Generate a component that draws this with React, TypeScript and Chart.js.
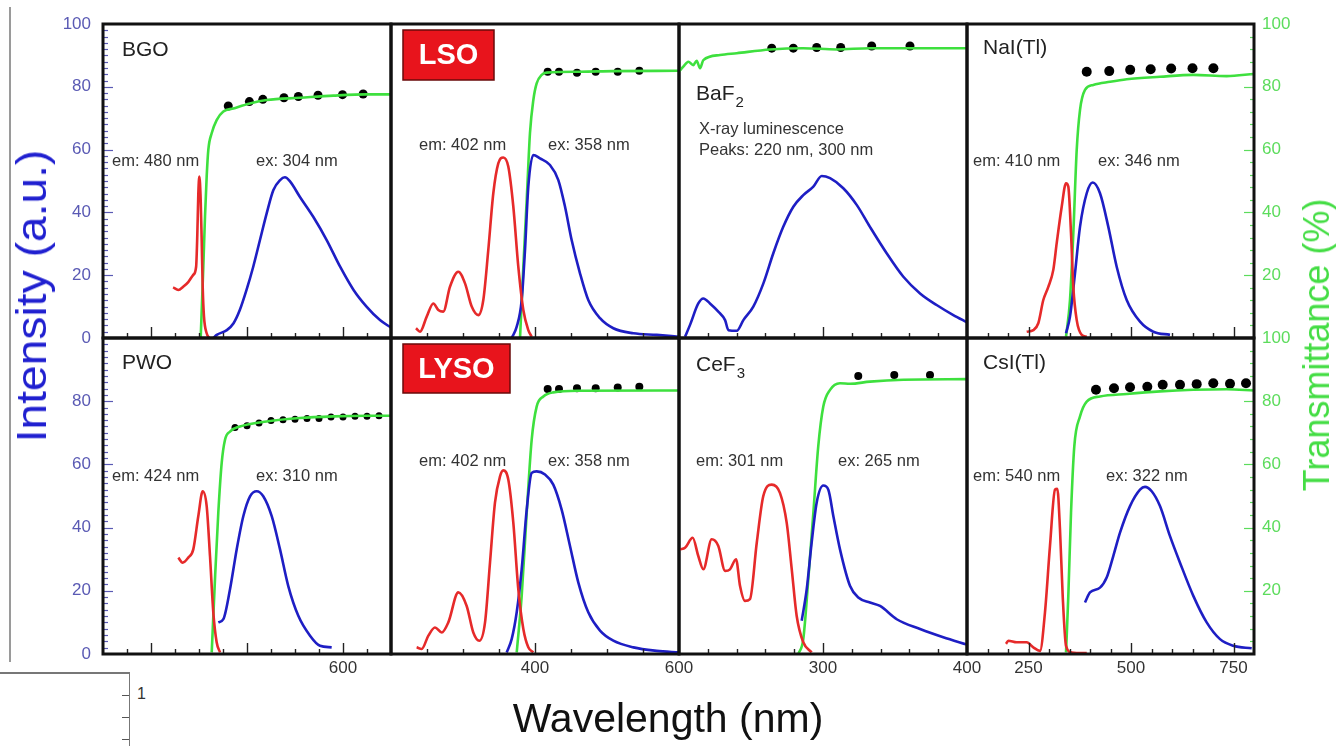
import React, { useEffect, useRef } from "react";
import { Chart, registerables } from "chart.js";

Chart.register(...registerables);

type Pt = [number, number];

// ---------------- data: [wavelength nm, value] ----------------
// BGO
const bgoExcitation: Pt[] = [[246, 16.1], [257, 15.3], [267, 16.3], [278, 17.9], [288, 20.1], [294, 22.7], [296.5, 33], [298.6, 46], [300.7, 51.4], [303.5, 44], [305.6, 31], [307.7, 16.3], [310.4, 6.8], [316, 1.5], [321.5, 0]];
const bgoEmission: Pt[] = [[330, 0], [337, 1], [358, 2.5], [372, 4.7], [385, 8.9], [399, 15.3], [413, 22.7], [427, 31.2], [441, 39.7], [455, 47.1], [469, 50.3], [479, 51.2], [490, 49.8], [510, 45], [538, 38.6], [566, 31.2], [594, 22.7], [622, 15.3], [649, 10], [677, 5.7], [700, 3.3]];
const bgoTransmit: Pt[] = [[303.5, 0], [309, 22.7], [312.5, 38.6], [316, 51.4], [319.4, 59.9], [326.4, 65.2], [336.8, 69.4], [350.7, 72.1], [371.5, 73.1], [406, 74.7], [441, 75.8], [510, 76.5], [580, 77.2], [649, 77.6], [700, 77.6]];
const bgoTheory: Pt[] = [[361, 73.9], [405, 75.3], [433, 76], [477, 76.5], [507, 76.9], [548, 77.3], [599, 77.5], [642, 77.7]];
// LSO
const lsoExcitation: Pt[] = [[234.7, 3.1], [240.3, 2], [249.6, 6.8], [258.8, 11], [265.7, 8.9], [272.6, 8.4], [281.9, 16.3], [293.5, 21.1], [302.8, 17.4], [312.1, 10], [321.3, 7.3], [328.2, 12.1], [335.1, 28], [342.1, 46.1], [349, 55.6], [356, 57.5], [362.9, 54.6], [369.9, 41.8], [376.8, 22.7], [383.8, 8.9], [390.7, 2.5], [395.4, 0.4]];
const lsoEmission: Pt[] = [[367.6, 0], [374.6, 3.6], [381.5, 12.1], [386.1, 28], [390.7, 48.2], [397.7, 58.3], [406.9, 57.2], [420.8, 55.1], [432.4, 50.3], [441.7, 41.8], [450.9, 31.2], [462.5, 20.6], [474, 12.1], [490.3, 6.3], [508.8, 3.1], [536.6, 1.5], [569, 1], [600, 0.4]];
const lsoTransmit: Pt[] = [[379.2, 0], [383.8, 22.7], [388.5, 44], [393, 65.2], [397.7, 75.8], [402.3, 81.1], [409.3, 83.8], [416.3, 84.5], [462.5, 84.8], [508.8, 85], [600, 85.1]];
const lsoTheory: Pt[] = [[417.6, 84.8], [433.3, 84.8], [458.3, 84.5], [484.3, 84.8], [514.9, 84.8], [544.9, 85.1]];
// BaF2
const baf2Emission: Pt[] = [[204.2, 0.4], [207.6, 4.1], [213.4, 11], [216.9, 12.6], [221.5, 11], [227.3, 8.4], [232, 5.7], [234.3, 2.5], [240.1, 2.3], [244.7, 5.7], [251.6, 10], [258.6, 17.4], [265.5, 27], [272.4, 35.4], [279.4, 41.8], [286.3, 45.5], [293.3, 48.2], [299.1, 51.6], [304.9, 50.9], [314.1, 47.7], [323.4, 42.4], [332.6, 35.4], [344.2, 27], [355.8, 19.5], [367.4, 14.2], [378.9, 10.5], [390.5, 7.3], [400, 5]];
const baf2Transmit: Pt[] = [[200, 84.8], [203, 86.4], [206.5, 88], [209.9, 86.9], [212.3, 88.3], [214.6, 85.9], [216.9, 88.5], [228.5, 90.1], [240.1, 90.7], [263.2, 91.9], [286.3, 92.3], [309.5, 91.9], [332.6, 92.3], [355.8, 92.3], [400, 92.3]];
const baf2Theory: Pt[] = [[264.4, 92.3], [279.4, 92.3], [295.6, 92.5], [312.3, 92.5], [333.8, 93], [360.4, 93]];
// NaI(Tl)
const naiExcitation: Pt[] = [[245.6, 2], [261.7, 2.5], [273.9, 4.7], [286.1, 12.1], [298.3, 16.3], [310.5, 21.7], [318.8, 30.2], [331, 41.8], [341.5, 49.3], [347.1, 48.2], [353.7, 33.3], [359.3, 16.3], [367.6, 5.7], [379.8, 1], [392, 0.4]];
const naiEmission: Pt[] = [[341.5, 1.5], [351.2, 6.8], [363.4, 20.6], [375.6, 35.4], [392, 46.1], [406.6, 49.5], [424.4, 46.1], [444.7, 35.4], [465.1, 22.7], [489.5, 12.1], [522, 5.2], [554.4, 2], [595.1, 1]];
const naiTransmit: Pt[] = [[341.5, 0.4], [351.2, 12.1], [359.3, 33.3], [367.6, 59.9], [375.6, 72.6], [387.8, 79], [408, 80.6], [448.8, 81.6], [489.5, 82.4], [570.7, 83.2], [652, 83.8], [733.4, 83.4], [800, 84.1]];
const naiTheory: Pt[] = [[392, 84.8], [447, 85], [498, 85.4], [548, 85.6], [598, 85.8], [650, 85.9], [701, 85.9]];
// PWO
const pwoExcitation: Pt[] = [[256.9, 30.5], [266, 28.9], [277.7, 30.5], [288.1, 33.1], [298.5, 43.6], [307.7, 51.5], [316, 46.8], [322.9, 31], [329.8, 13.2], [336.8, 3.7], [343.8, 0.5]];
const pwoEmission: Pt[] = [[340.2, 10], [350.7, 11], [364.6, 20.5], [378.5, 33.1], [392.3, 43.6], [406.3, 49.9], [420.2, 51.5], [433.9, 49.9], [451.5, 43.6], [468.8, 33.1], [486, 21.5], [506.9, 12.1], [531.3, 5.8], [552.1, 2.6], [576.4, 2.1]];
const pwoTransmit: Pt[] = [[326.5, 0.5], [333.3, 23.7], [340.2, 44.7], [347.3, 60.5], [354.2, 67.8], [364.6, 70.4], [385.4, 72], [441, 73.6], [510.4, 74.7], [579.8, 75.2], [649.4, 75.4], [700, 75.4]];
const pwoTheory: Pt[] = [[375, 71.7], [400, 72.2], [425, 73.1], [450, 73.9], [475, 74.1], [500, 74.3], [525, 74.5], [550, 74.5], [575, 75], [600, 75], [625, 75.2], [650, 75.2], [675, 75.4]];
// LYSO
const lysoExcitation: Pt[] = [[235.6, 2.1], [242.6, 1.6], [251.9, 5.8], [261.1, 8.4], [270.4, 6.8], [279.6, 10], [293.5, 19.5], [305.1, 15.2], [314.3, 6.8], [322.7, 4.2], [330.6, 10], [337.5, 28.9], [344.4, 47.9], [351.4, 56.2], [356, 58.1], [362.9, 55.2], [369.9, 41.5], [376.8, 20.5], [383.8, 7.9], [390.7, 2.1], [397.6, 0.5]];
const lysoEmission: Pt[] = [[360.7, 0.5], [367.6, 4.7], [374.6, 13.2], [381.5, 26.8], [388.5, 45.7], [395.4, 57.3], [402.3, 57.8], [413.9, 56.8], [425.4, 53.6], [437, 45.7], [448.6, 34.2], [460.2, 22.6], [474, 13.2], [490.3, 7.4], [508.8, 4.2], [536.6, 2.1], [569, 1], [600, 0.5]];
const lysoTransmit: Pt[] = [[374.6, 0.5], [381.5, 18.4], [388.5, 44.7], [395.4, 67.8], [402.3, 78.3], [411.6, 81.5], [425.4, 82.8], [462.5, 83.3], [600, 83.4]];
const lysoTheory: Pt[] = [[417.6, 83.9], [433.3, 83.9], [458.3, 84.1], [484.3, 84.1], [514.9, 84.3], [544.9, 84.6]];
// CeF3
const cef3Excitation: Pt[] = [[200.7, 33.1], [204.2, 33.6], [209.5, 36.8], [213.4, 31], [216.9, 26.8], [222.7, 36.3], [227.3, 34.2], [232, 26.3], [235.4, 26.8], [239.6, 30], [242.4, 21.5], [245.8, 16.8], [249.3, 17.4], [254, 35.2], [258.5, 49.9], [264.4, 53.6], [270.1, 51], [274.8, 41.5], [278.3, 26.8], [281.7, 12.1], [286.3, 3.7], [292.1, 0.5]];
const cef3Emission: Pt[] = [[285.2, 10.5], [288.7, 20.5], [292.1, 35.2], [295.6, 47.9], [300.2, 53.3], [303.7, 52], [307.2, 43.6], [311.8, 33.1], [318.8, 21.5], [324.5, 17.9], [332.6, 16.3], [339.6, 15.2], [351.2, 11], [367.4, 7.9], [383.5, 5.3], [400, 3]];
const cef3Transmit: Pt[] = [[282.9, 0], [286.3, 4.7], [289.8, 23.7], [293.3, 44.7], [296.7, 65.7], [300.2, 78.3], [304.9, 83.6], [311.8, 85.7], [318.8, 85.5], [332.6, 86.2], [355.8, 86.8], [400, 87]];
const cef3Theory: Pt[] = [[324.5, 88], [349.5, 88.3], [374.3, 88.3]];
// CsI(Tl)
const csiExcitation: Pt[] = [[195.1, 3.2], [200.7, 4.2], [221.2, 3.7], [245.6, 3.7], [261.7, 2.1], [278, 1], [290.2, 13.2], [302.4, 34.2], [314.6, 52], [320.3, 52.3], [326.8, 39.4], [333.4, 18.4], [341.5, 2.6], [355.4, 0.5], [392, 0.3]];
const csiEmission: Pt[] = [[387.8, 16.3], [400, 19.5], [424.4, 21], [440.7, 24.2], [456.8, 31], [473.2, 38.4], [497.6, 46.8], [522, 52], [534.1, 52.9], [550.5, 51.5], [570.7, 46.8], [595.1, 37.3], [619.5, 28.9], [652, 18.4], [684.6, 10], [717.1, 4.7], [749.5, 2.6], [794.4, 1.8]];
const csiTransmit: Pt[] = [[341.5, 0.5], [347.1, 18.4], [353.7, 44.7], [361.7, 65.7], [375.6, 75.2], [392, 79.9], [424.4, 81.5], [489.5, 82.3], [570.7, 83.1], [652, 83.6], [733.4, 83.8], [800, 83.4]];
const csiTheory: Pt[] = [[414.6, 83.6], [458.5, 84.1], [497.6, 84.4], [539.8, 84.6], [577.3, 85.2], [619.5, 85.2], [660.2, 85.4], [700.7, 85.7], [741.5, 85.5], [780.5, 85.7]];

// axis ranges / tick labels per column (nm)
const colXRange: [number, number][] = [[100, 700], [200, 600], [200, 400], [100, 800]];
const colXShown: number[][] = [[600], [400, 600], [300, 400], [250, 500, 750]];
const colXMajor: number[][] = [[200, 400, 600], [400], [300], [250, 500, 750]];
const colXMinor = [50, 50, 20, 50];
const intensityTicks = [0, 20, 40, 60, 80, 100];

// ---------------- panels ----------------
interface Note { text: string; dx: number; dy: number }
interface PanelDef {
  row: number; col: number;
  title: string; sub?: string; boxed?: boolean;
  red?: Pt[]; blue: Pt[]; green: Pt[]; dots: Pt[];
  notes: Note[];
  dotR: number;
  titlePos: [number, number];
  box?: [number, number, number, number];
}

const panels: PanelDef[] = [
  { row: 0, col: 0, title: "BGO", red: bgoExcitation, blue: bgoEmission, green: bgoTransmit, dots: bgoTheory, dotR: 4.5, titlePos: [19, 26],
    notes: [{ text: "em: 480 nm", dx: 9, dy: 137 }, { text: "ex: 304 nm", dx: 153, dy: 137 }] },
  { row: 0, col: 1, title: "LSO", boxed: true, box: [12, 6, 91, 50], red: lsoExcitation, blue: lsoEmission, green: lsoTransmit, dots: lsoTheory, dotR: 4, titlePos: [0, 0],
    notes: [{ text: "em: 402 nm", dx: 28, dy: 121 }, { text: "ex: 358 nm", dx: 157, dy: 121 }] },
  { row: 0, col: 2, title: "BaF", sub: "2", blue: baf2Emission, green: baf2Transmit, dots: baf2Theory, dotR: 4.5, titlePos: [17, 70],
    notes: [{ text: "X-ray luminescence", dx: 20, dy: 105 }, { text: "Peaks: 220 nm, 300 nm", dx: 20, dy: 126 }] },
  { row: 0, col: 3, title: "NaI(Tl)", red: naiExcitation, blue: naiEmission, green: naiTransmit, dots: naiTheory, dotR: 5, titlePos: [16, 24],
    notes: [{ text: "em: 410 nm", dx: 6, dy: 137 }, { text: "ex: 346 nm", dx: 131, dy: 137 }] },
  { row: 1, col: 0, title: "PWO", red: pwoExcitation, blue: pwoEmission, green: pwoTransmit, dots: pwoTheory, dotR: 3.5, titlePos: [19, 25],
    notes: [{ text: "em: 424 nm", dx: 9, dy: 138 }, { text: "ex: 310 nm", dx: 153, dy: 138 }] },
  { row: 1, col: 1, title: "LYSO", boxed: true, box: [12, 6, 107, 49], red: lysoExcitation, blue: lysoEmission, green: lysoTransmit, dots: lysoTheory, dotR: 4, titlePos: [0, 0],
    notes: [{ text: "em: 402 nm", dx: 28, dy: 123 }, { text: "ex: 358 nm", dx: 157, dy: 123 }] },
  { row: 1, col: 2, title: "CeF", sub: "3", red: cef3Excitation, blue: cef3Emission, green: cef3Transmit, dots: cef3Theory, dotR: 4, titlePos: [17, 27],
    notes: [{ text: "em: 301 nm", dx: 17, dy: 123 }, { text: "ex: 265 nm", dx: 159, dy: 123 }] },
  { row: 1, col: 3, title: "CsI(Tl)", red: csiExcitation, blue: csiEmission, green: csiTransmit, dots: csiTheory, dotR: 5, titlePos: [16, 25],
    notes: [{ text: "em: 540 nm", dx: 6, dy: 138 }, { text: "ex: 322 nm", dx: 139, dy: 138 }] },
];

// ---------------- layout ----------------
const COL_LEFT = [103, 391, 679, 967, 1254];
const ROW_TOP = [24, 338, 654];
const M = 60;
const FONT = '"Liberation Sans", Arial, Helvetica, sans-serif';
const RED = "#e62a2a";
const BLUE = "#1e1ec4";
const GREEN = "#3ee03e";
const LEFT_TICK = "#5a5ab4";
const RIGHT_TICK = "#5cdc5c";

function makeDecor(def: PanelDef) {
  return {
    id: "panelDecor",
    afterDatasetsDraw(chart: any) {
      const { ctx, chartArea: a } = chart;
      const xs = chart.scales.x;
      const ys = chart.scales.y;
      const [xMin, xMax] = colXRange[def.col];
      const minor = colXMinor[def.col];
      ctx.save();
      // x ticks (inward)
      ctx.strokeStyle = "#222";
      ctx.lineWidth = 1.4;
      const n = Math.round((xMax - xMin) / minor);
      for (let i = 1; i < n; i++) {
        const v = xMin + i * minor;
        const px = Math.round(xs.getPixelForValue(v)) + 0.5;
        const len = colXMajor[def.col].includes(v) ? 11 : 5;
        ctx.beginPath();
        ctx.moveTo(px, a.bottom);
        ctx.lineTo(px, a.bottom - len);
        ctx.stroke();
      }
      // left intensity ticks (col 0)
      if (def.col === 0) {
        ctx.strokeStyle = LEFT_TICK;
        ctx.lineWidth = 1.2;
        for (let v = 2; v < 100; v += 2) {
          const py = Math.round(ys.getPixelForValue(v)) + 0.5;
          const len = intensityTicks.includes(v) ? 10 : 5;
          ctx.beginPath();
          ctx.moveTo(a.left, py);
          ctx.lineTo(a.left + len, py);
          ctx.stroke();
        }
      }
      if (def.col === 3) {
        const y2 = chart.scales.y2;
        ctx.strokeStyle = RIGHT_TICK;
        ctx.lineWidth = 1.2;
        for (let v = 4; v < 100; v += 4) {
          const py = Math.round(y2.getPixelForValue(v)) + 0.5;
          const len = v % 20 === 0 ? 10 : 4;
          ctx.beginPath();
          ctx.moveTo(a.right, py);
          ctx.lineTo(a.right - len, py);
          ctx.stroke();
        }
      }
      // frame
      ctx.strokeStyle = "#111";
      ctx.lineWidth = 3;
      ctx.strokeRect(a.left, a.top, a.right - a.left, a.bottom - a.top);

      // title
      ctx.textBaseline = "middle";
      ctx.textAlign = "left";
      if (def.boxed && def.box) {
        const [bx, by, bw, bh] = def.box;
        ctx.fillStyle = "#e8141c";
        ctx.fillRect(a.left + bx, a.top + by, bw, bh);
        ctx.strokeStyle = "#6a0a0a";
        ctx.lineWidth = 1.5;
        ctx.strokeRect(a.left + bx, a.top + by, bw, bh);
        ctx.fillStyle = "#ffffff";
        ctx.font = `bold 29px ${FONT}`;
        ctx.textAlign = "center";
        ctx.fillText(def.title, a.left + bx + bw / 2, a.top + by + bh / 2 + 1);
        ctx.textAlign = "left";
      } else {
        ctx.fillStyle = "#222";
        ctx.font = `21px ${FONT}`;
        const tx = a.left + def.titlePos[0];
        const ty = a.top + def.titlePos[1];
        ctx.fillText(def.title, tx, ty);
        if (def.sub) {
          const w = ctx.measureText(def.title).width;
          ctx.font = `15px ${FONT}`;
          ctx.fillText(def.sub, tx + w + 1, ty + 9);
        }
      }
      // notes
      ctx.fillStyle = "#333";
      ctx.font = `16.5px ${FONT}`;
      for (const nt of def.notes) {
        ctx.fillText(nt.text, a.left + nt.dx, a.top + nt.dy);
      }
      ctx.restore();
    },
  };
}

function Panel({ def }: { def: PanelDef }) {
  const ref = useRef<HTMLCanvasElement | null>(null);
  const colW = COL_LEFT[def.col + 1] - COL_LEFT[def.col];
  const rowH = ROW_TOP[def.row + 1] - ROW_TOP[def.row];
  const W = colW + 2 * M;
  const H = rowH + 2 * M;

  useEffect(() => {
    const canvas = ref.current;
    if (!canvas) return;
    const xy = (pts: Pt[]) => pts.map(([x, y]) => ({ x, y }));
    const lineDs = (pts: Pt[], color: string, axis: string) => ({
      data: xy(pts),
      borderColor: color,
      backgroundColor: color,
      borderWidth: 2.6,
      pointRadius: 0,
      cubicInterpolationMode: "monotone",
      fill: false,
      yAxisID: axis,
    });
    const datasets: any[] = [];
    if (def.red) datasets.push(lineDs(def.red, RED, "y"));
    datasets.push(lineDs(def.blue, BLUE, "y"));
    datasets.push(lineDs(def.green, GREEN, "y2"));
    datasets.push({
      data: xy(def.dots),
      showLine: false,
      pointRadius: def.dotR,
      pointBackgroundColor: "#000",
      pointBorderColor: "#000",
      pointBorderWidth: 0,
      yAxisID: "y2",
    });
    const zero = (s: any) => {
      s.paddingLeft = 0;
      s.paddingRight = 0;
      s.paddingTop = 0;
      s.paddingBottom = 0;
    };
    const [xMin, xMax] = colXRange[def.col];
    const shown = colXShown[def.col];
    const chart = new Chart(canvas, {
      type: "line",
      data: { datasets },
      options: {
        animation: false,
        responsive: false,
        maintainAspectRatio: false,
        events: [],
        layout: { padding: { top: M, left: 0, right: 0, bottom: 0 } },
        plugins: { legend: { display: false }, tooltip: { enabled: false } },
        scales: {
          x: {
            type: "linear",
            position: "bottom",
            min: xMin,
            max: xMax,
            grid: { display: false, drawTicks: false },
            border: { display: false },
            afterBuildTicks: (s: any) => {
              s.ticks = shown.map((v) => ({ value: v }));
            },
            ticks: {
              display: def.row === 1,
              autoSkip: false,
              maxRotation: 0,
              padding: 4,
              color: "#333",
              font: { family: FONT, size: 17 },
              callback: (v: any) => String(v),
            },
            afterFit: (s: any) => {
              s.height = M;
              zero(s);
            },
          },
          y: {
            type: "linear",
            position: "left",
            min: 0,
            max: 100,
            grid: { display: false, drawTicks: false },
            border: { display: false },
            ticks: {
              display: def.col === 0,
              stepSize: 20,
              padding: 12,
              color: LEFT_TICK,
              font: { family: FONT, size: 17 },
              callback: (v: any) => (def.row === 1 && Number(v) === 100 ? "" : String(v)),
            },
            afterFit: (s: any) => {
              s.width = M;
              zero(s);
            },
          },
          y2: {
            type: "linear",
            position: "right",
            min: 0,
            max: 100,
            grid: { display: false, drawTicks: false },
            border: { display: false },
            ticks: {
              display: def.col === 3,
              stepSize: 20,
              padding: 8,
              color: RIGHT_TICK,
              font: { family: FONT, size: 17 },
              callback: (v: any) => (Number(v) === 0 ? "" : String(v)),
            },
            afterFit: (s: any) => {
              s.width = M;
              zero(s);
            },
          },
        },
      } as any,
      plugins: [makeDecor(def) as any],
    });
    return () => chart.destroy();
  }, [def]);

  return (
    <canvas
      ref={ref}
      width={W}
      height={H}
      style={{ position: "absolute", left: COL_LEFT[def.col] - M, top: ROW_TOP[def.row] - M, width: W, height: H }}
    />
  );
}

export default function App() {
  return (
    <div
      style={{
        position: "absolute",
        left: 0,
        top: 0,
        width: 1336,
        height: 746,
        overflow: "hidden",
        background: "#fff",
        fontFamily: FONT,
      }}
    >
      {/* stray frame artifacts of the original figure */}
      <div style={{ position: "absolute", left: 9, top: 7, width: 2, height: 655, background: "#9a9a9a" }} />
      <div style={{ position: "absolute", left: 0, top: 672, width: 130, height: 1.5, background: "#777" }} />
      <div style={{ position: "absolute", left: 128.5, top: 672, width: 1.5, height: 74, background: "#777" }} />
      {[695, 717, 739].map((y) => (
        <div key={y} style={{ position: "absolute", left: 122, top: y, width: 7, height: 1.2, background: "#555" }} />
      ))}
      <div style={{ position: "absolute", left: 137, top: 684, fontSize: 16, color: "#333", lineHeight: "20px" }}>1</div>

      {panels.map((p) => (
        <Panel key={`${p.row}-${p.col}`} def={p} />
      ))}

      <div
        style={{
          position: "absolute",
          left: 32,
          top: 296,
          transform: "translate(-50%, -50%) rotate(-90deg) scaleX(1.1)",
          whiteSpace: "nowrap",
          fontSize: 42,
          color: "#2020d0",
          lineHeight: 1,
        }}
      >
        Intensity (a.u.)
      </div>
      <div
        style={{
          position: "absolute",
          left: 1317,
          top: 345,
          transform: "translate(-50%, -50%) rotate(-90deg)",
          whiteSpace: "nowrap",
          fontSize: 36,
          color: "#44dd44",
          lineHeight: 1,
        }}
      >
        Transmittance (%)
      </div>
      <div
        style={{
          position: "absolute",
          left: 668,
          top: 718,
          transform: "translate(-50%, -50%)",
          whiteSpace: "nowrap",
          fontSize: 41,
          color: "#111",
          lineHeight: 1,
        }}
      >
        Wavelength (nm)
      </div>
    </div>
  );
}
